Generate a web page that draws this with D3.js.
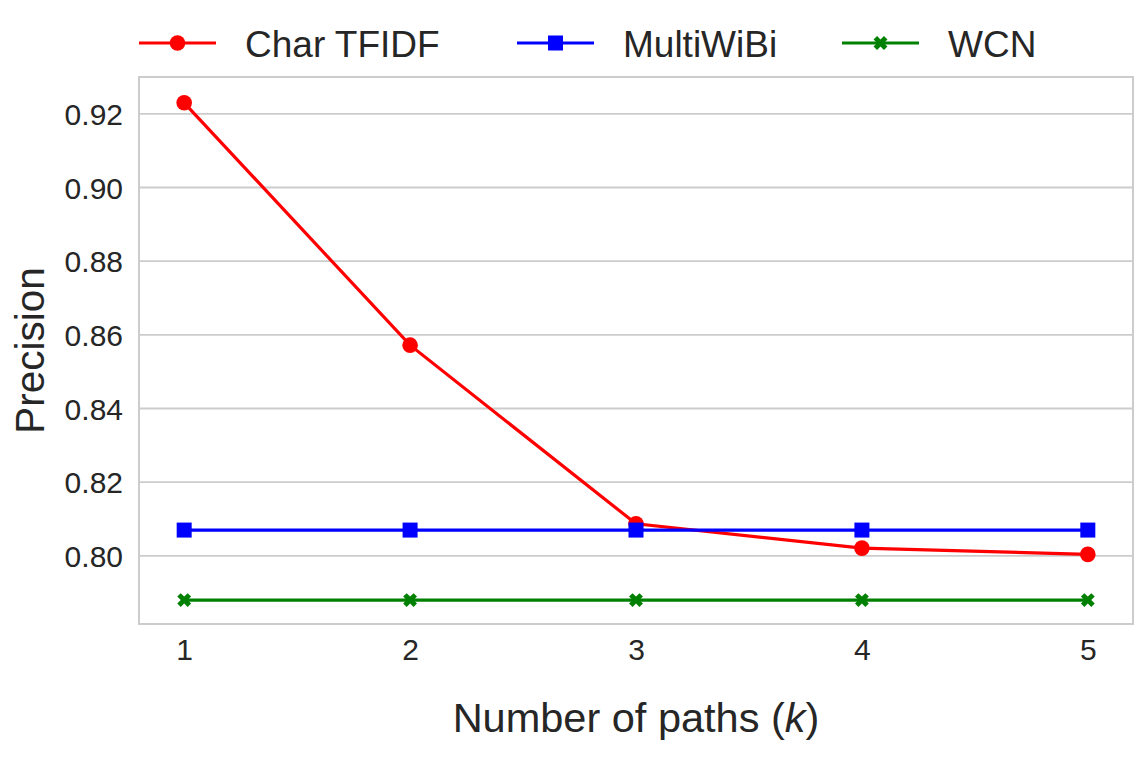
<!DOCTYPE html>
<html lang="en">
<head>
<meta charset="UTF-8">
<title>Precision vs number of paths</title>
<script src="https://cdn.jsdelivr.net/npm/d3@7"></script>
<style>
  body { margin: 0; background: #fff; }
  text { font-family: "Liberation Sans", Arial, sans-serif; fill: #262626; }
</style>
</head>
<body>
<script>
// data
const kValues = [1, 2, 3, 4, 5];
const charTfidf = [0.923, 0.8572, 0.8087, 0.8021, 0.8004];
const multiWiBi = [0.807, 0.807, 0.807, 0.807, 0.807];
const wcn = [0.788, 0.788, 0.788, 0.788, 0.788];
const yTicks = [0.80, 0.82, 0.84, 0.86, 0.88, 0.90, 0.92];

const series = [
  { name: 'Char TFIDF', values: charTfidf, color: '#ff0000', marker: 'circle' },
  { name: 'MultiWiBi', values: multiWiBi, color: '#0000ff', marker: 'square' },
  { name: 'WCN', values: wcn, color: '#008000', marker: 'x' }
];

const width = 1148, height = 759;
const plotLeft = 139, plotRight = 1133, plotTop = 77, plotBottom = 624;

const svg = d3.select('body').append('svg')
  .attr('width', width)
  .attr('height', height);

const x = d3.scaleLinear().domain([0.8, 5.2]).range([plotLeft, plotRight]);
const y = d3.scaleLinear().domain([0.7815, 0.930]).range([plotBottom, plotTop]);

// horizontal grid
svg.append('g')
  .selectAll('line')
  .data(yTicks)
  .enter()
  .append('line')
  .attr('x1', plotLeft).attr('x2', plotRight)
  .attr('y1', d => y(d)).attr('y2', d => y(d))
  .attr('stroke', '#cccccc')
  .attr('stroke-width', 1.8);

// frame
svg.append('rect')
  .attr('x', plotLeft).attr('y', plotTop)
  .attr('width', plotRight - plotLeft).attr('height', plotBottom - plotTop)
  .attr('fill', 'none')
  .attr('stroke', '#cccccc')
  .attr('stroke-width', 2);

// y axis labels
const yAxis = d3.axisLeft(y).tickValues(yTicks).tickFormat(d3.format('.2f')).tickSize(0).tickPadding(16);
const gy = svg.append('g').attr('transform', `translate(${plotLeft},0)`).call(yAxis);
gy.select('.domain').remove();
gy.selectAll('text').style('font-size', '30px').attr('fill', '#262626').attr('dy', '0.36em');

// x axis labels
const xAxis = d3.axisBottom(x).tickValues(kValues).tickFormat(d3.format('d')).tickSize(0).tickPadding(15);
const gx = svg.append('g').attr('transform', `translate(0,${plotBottom})`).call(xAxis);
gx.select('.domain').remove();
gx.selectAll('text').style('font-size', '30px').attr('fill', '#262626');

// axis titles
const xTitle = svg.append('text')
  .attr('x', (plotLeft + plotRight) / 2)
  .attr('y', 732)
  .attr('text-anchor', 'middle')
  .style('font-size', '41.5px');
xTitle.append('tspan').text('Number of paths (');
xTitle.append('tspan').style('font-style', 'italic').text('k');
xTitle.append('tspan').text(')');

svg.append('text')
  .attr('transform', `translate(44,${(plotTop + plotBottom) / 2}) rotate(-90)`)
  .attr('text-anchor', 'middle')
  .style('font-size', '40.5px')
  .text('Precision');

// marker helper
function drawMarker(g, type, color) {
  if (type === 'circle') {
    g.append('circle').attr('r', 7.8).attr('fill', color);
  } else if (type === 'square') {
    g.append('rect').attr('x', -7.5).attr('y', -7.5).attr('width', 15).attr('height', 15).attr('fill', color);
  } else {
    g.append('path')
      .attr('d', d3.symbol().type(d3.symbolCross).size(120)())
      .attr('transform', 'rotate(45)')
      .attr('fill', color);
  }
}

const line = d3.line()
  .x((d, i) => x(kValues[i]))
  .y(d => y(d));

series.forEach(s => {
  const g = svg.append('g');
  g.append('path')
    .datum(s.values)
    .attr('d', line)
    .attr('fill', 'none')
    .attr('stroke', s.color)
    .attr('stroke-width', 3.2);
  g.selectAll('g.pt')
    .data(s.values)
    .enter()
    .append('g')
    .attr('class', 'pt')
    .attr('transform', (d, i) => `translate(${x(kValues[i])},${y(d)})`)
    .each(function () { drawMarker(d3.select(this), s.marker, s.color); });
});

// legend
const legendX = [139, 517, 842];
const legend = svg.append('g');
series.forEach((s, i) => {
  const g = legend.append('g').attr('transform', `translate(${legendX[i]},43)`);
  g.append('line').attr('x1', 0).attr('x2', 77).attr('y1', 0).attr('y2', 0)
    .attr('stroke', s.color).attr('stroke-width', 3.2);
  const m = g.append('g').attr('transform', 'translate(38.5,0)');
  drawMarker(m, s.marker, s.color);
  g.append('text').attr('x', 106).attr('y', 14).style('font-size', '37px').text(s.name);
});
</script>
</body>
</html>
